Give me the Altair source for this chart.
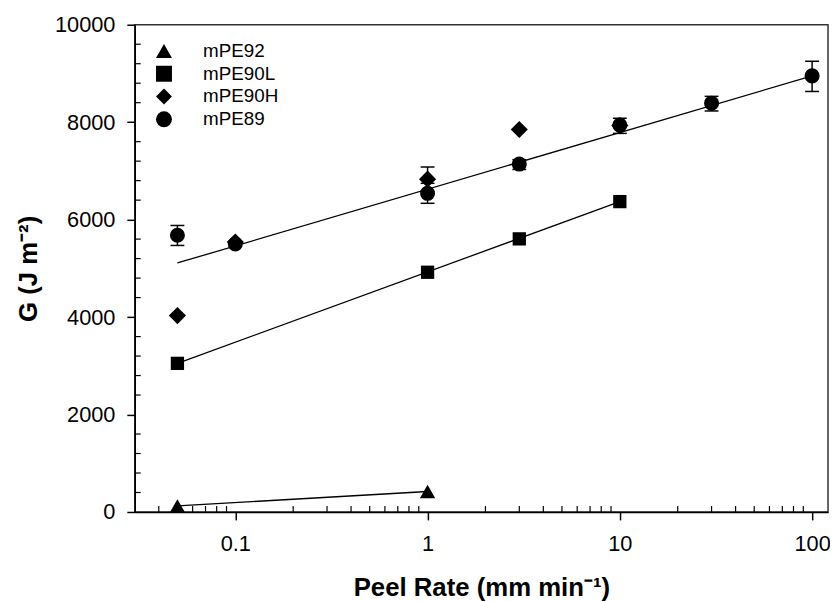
import altair as alt
import pandas as pd

# ---- data ----
names = ["mPE92", "mPE90L", "mPE90H", "mPE89"]
shapes = ["triangle-up", "square", "diamond", "circle"]
sizes = [240, 180, 300, 230]

tri_x = [0.05, 1]
tri_y = [125, 420]
sq_x = [0.05, 1, 3, 10]
sq_y = [3050, 4920, 5605, 6370]
dia_x = [0.05, 0.1, 1, 3, 10]
dia_y = [4030, 5540, 6830, 7850, 7930]
cir_x = [0.05, 0.1, 1, 3, 10, 30, 100]
cir_y = [5680, 5500, 6540, 7140, 7940, 8390, 8950]

err_x = [0.05, 1, 1, 3, 10, 30, 100]
err_lo = [5470, 6335, 6580, 7030, 7770, 8230, 8630]
err_hi = [5880, 6745, 7080, 7230, 8080, 8530, 9250]

fit_series = ["mPE92", "mPE92", "mPE90L", "mPE90L", "mPE89", "mPE89"]
fit_x = [0.05, 1, 0.05, 10, 0.05, 100]
fit_y = [125, 420, 3050, 6370, 5110, 8950]

x_ticks = [0.1, 1, 10, 100]
x_minor = [0.04, 0.05, 0.06, 0.07, 0.08, 0.09,
           0.2, 0.3, 0.4, 0.5, 0.6, 0.7, 0.8, 0.9,
           2, 3, 4, 5, 6, 7, 8, 9,
           20, 30, 40, 50, 60, 70, 80, 90]
y_ticks = [0, 2000, 4000, 6000, 8000, 10000]
y_minor = [v for v in range(400, 10000, 400) if v % 2000 != 0]

# ---- tables ----
series_data = {
    "mPE92": (tri_x, tri_y),
    "mPE90L": (sq_x, sq_y),
    "mPE90H": (dia_x, dia_y),
    "mPE89": (cir_x, cir_y),
}
fits = pd.DataFrame({"series": fit_series, "x": fit_x, "y": fit_y})
errs = pd.DataFrame({"x": err_x, "lo": err_lo, "hi": err_hi})
xminor_df = pd.DataFrame({"x": x_minor})
yminor_df = pd.DataFrame({"y": y_minor})

FONT = "Liberation Sans"
W, H = 700, 492

xscale = alt.Scale(type="log", domain=[0.03, 121], nice=False)
yscale = alt.Scale(domain=[0, 10000], nice=False, zero=False)

xaxis = alt.Axis(title="Peel Rate (mm min\u207b\u00b9)", values=x_ticks, format="~g",
                 tickSize=8, labelPadding=14, grid=False, titlePadding=20)
yaxis = alt.Axis(title="G (J m\u207b\u00b2)", values=y_ticks, format="d",
                 tickSize=8, labelPadding=12, grid=False, titlePadding=13)

X = lambda f="x": alt.X(f"{f}:Q", scale=xscale, axis=xaxis)
Y = lambda f="y": alt.Y(f"{f}:Q", scale=yscale, axis=yaxis)

shape_scale = alt.Scale(domain=names, range=shapes)
legend = alt.Legend(title=None, orient="none", legendX=20, legendY=17,
                    labelFont=FONT, labelFontSize=19, labelColor="black",
                    symbolSize=260, symbolFillColor="black", symbolStrokeColor="black",
                    symbolStrokeWidth=0, symbolOpacity=1, labelOffset=30,
                    rowPadding=3, padding=0)

lines = alt.Chart(fits).mark_line(color="black", strokeWidth=1.3).encode(
    x=X(), y=Y(), detail="series:N")

err_rule = alt.Chart(errs).mark_rule(color="black", strokeWidth=1.5).encode(
    x=X(), y=Y("lo"), y2="hi:Q")
cap_lo = alt.Chart(errs).mark_tick(color="black", orient="horizontal", size=14,
                                   thickness=1.5, opacity=1).encode(x=X(), y=Y("lo"))
cap_hi = alt.Chart(errs).mark_tick(color="black", orient="horizontal", size=14,
                                   thickness=1.5, opacity=1).encode(x=X(), y=Y("hi"))

point_layers = []
for name, sz in zip(names, sizes):
    xs, ys = series_data[name]
    df = pd.DataFrame({"series": [name] * len(xs), "x": xs, "y": ys})
    point_layers.append(
        alt.Chart(df).mark_point(filled=True, color="black", opacity=1, size=sz).encode(
            x=X(), y=Y(),
            shape=alt.Shape("series:N", scale=shape_scale, legend=legend))
    )

xminor = alt.Chart(xminor_df).mark_rule(color="black", strokeWidth=1.2).encode(
    x=X(), y=alt.value(H - 6), y2=alt.value(H))
yminor = alt.Chart(yminor_df).mark_rule(color="black", strokeWidth=1.2).encode(
    y=Y(), x=alt.value(0), x2=alt.value(6))

chart = alt.layer(
    xminor, yminor, lines, err_rule, cap_lo, cap_hi, *point_layers
).properties(
    width=W, height=H,
    padding={"left": 128, "top": 14, "right": 2, "bottom": 87},
    autosize=alt.AutoSizeParams(type="none"),
).configure_view(
    stroke="#333", strokeWidth=1.5
).configure_axis(
    domainColor="black", domainWidth=1.5, tickColor="black", tickWidth=1.5,
    labelFont=FONT, labelFontSize=22, labelColor="black",
    titleFont=FONT, titleFontSize=26, titleFontWeight="bold", titleColor="black",
)

chart.save("out.html", embed_options={"renderer": "svg", "actions": False})
